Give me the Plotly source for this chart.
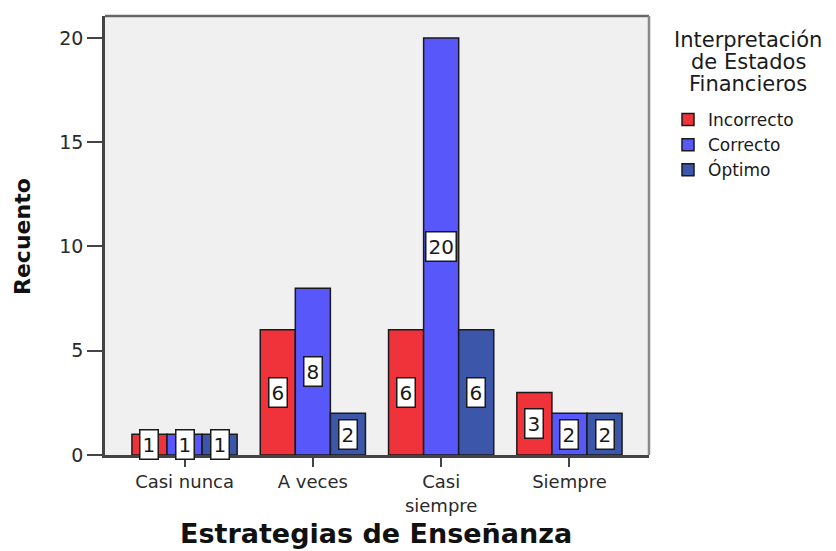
import plotly.graph_objects as go

categories = ["Casi nunca", "A veces", "Casi<br>siempre", "Siempre"]
series_names = ["Incorrecto", "Correcto", "Óptimo"]
incorrecto = [1, 6, 6, 3]
correcto = [1, 8, 20, 2]
optimo = [1, 2, 6, 2]
y_ticks = [0, 5, 10, 15, 20]
legend_title_lines = ["Interpretación", "de Estados", "Financieros"]

colors = ["#F0323A", "#5757FA", "#3C57A9"]
series_values = [incorrecto, correcto, optimo]

FONT = "DejaVu Sans, Verdana, sans-serif"
bargap = 0.18
bar_w = (1 - bargap) / 3
offsets = [-bar_w, 0, bar_w]

# page body has an 8px margin: figure is drawn from (8, 8) of the window
OFF = 8
W, H = 836 - OFF, 551 - OFF
# plot area in window pixels: x 105..649, y 16..455
L, R, T, B = 105 - OFF, 649 - OFF, 16 - OFF, 455 - OFF
PW, PH = R - L, B - T

def px_x(px):
    return (px - OFF - L) / PW

def px_y(py):
    return (B - (py - OFF)) / PH

fig = go.Figure()
xs = list(range(len(categories)))
for name, vals, col in zip(series_names, series_values, colors):
    fig.add_trace(go.Bar(
        x=xs, y=vals, name=name,
        marker=dict(color=col, line=dict(color="#1a1a1a", width=1.5)),
    ))

annotations = []
for j, vals in enumerate(series_values):
    for i, v in enumerate(vals):
        annotations.append(dict(
            x=i + offsets[j], y=v / 2, xref="x", yref="y",
            text=str(v), showarrow=False,
            font=dict(family=FONT, size=20, color="#1a1a1a"),
            bgcolor="white", bordercolor="#1a1a1a", borderwidth=1.5, borderpad=2,
        ))

for k, line in enumerate(legend_title_lines):
    annotations.append(dict(
        x=px_x(748), y=px_y(40 + 22 * k), xref="paper", yref="paper",
        xanchor="center", yanchor="middle",
        text=line, showarrow=False,
        font=dict(family=FONT, size=21, color="#1a1a1a"),
    ))

annotations.append(dict(
    x=px_x(376), y=px_y(533), xref="paper", yref="paper", xanchor="center", yanchor="middle",
    text="<b>Estrategias de Enseñanza</b>", showarrow=False,
    font=dict(family=FONT, size=27, color="#111111"),
))
annotations.append(dict(
    x=px_x(22), y=px_y(237), xref="paper", yref="paper", xanchor="center", yanchor="middle",
    text="<b>Recuento</b>", showarrow=False, textangle=-90,
    font=dict(family=FONT, size=22, color="#111111"),
))

fig.update_layout(
    width=W, height=H,
    margin=dict(l=L, r=W - R, t=T, b=H - B, autoexpand=False),
    paper_bgcolor="white", plot_bgcolor="#F0F0F0",
    barmode="group", bargap=bargap, bargroupgap=0,
    font=dict(family=FONT, color="#222222"),
    showlegend=True,
    legend=dict(
        x=px_x(668), y=px_y(102), xanchor="left", yanchor="top",
        font=dict(family=FONT, size=17, color="#1a1a1a"),
        bgcolor="rgba(0,0,0,0)", tracegroupgap=0, itemwidth=30,
    ),
    annotations=annotations,
    xaxis=dict(
        range=[-0.62, 3.62], tickmode="array", tickvals=xs, ticktext=categories,
        ticks="outside", ticklen=9, tickwidth=2, tickcolor="#444444",
        tickfont=dict(family=FONT, size=18, color="#2a2a2a"),
        showgrid=False, zeroline=False,
        showline=True, linecolor="#444444", linewidth=2.5,
    ),
    yaxis=dict(
        range=[0, 21.05], tickmode="array", tickvals=y_ticks,
        ticks="outside", ticklen=15, tickwidth=2, tickcolor="#444444",
        tickfont=dict(family=FONT, size=19, color="#2a2a2a"),
        showgrid=False, zeroline=False,
        showline=True, linecolor="#444444", linewidth=2.5,
    ),
    shapes=[
        dict(type="line", xref="paper", yref="paper", x0=0, x1=1, y0=1, y1=1,
             line=dict(color="#666666", width=2.5)),
        dict(type="line", xref="paper", yref="paper", x0=1, x1=1, y0=0, y1=1,
             line=dict(color="#8a8a8a", width=2.5)),
    ],
)

fig.write_html("out.html")
